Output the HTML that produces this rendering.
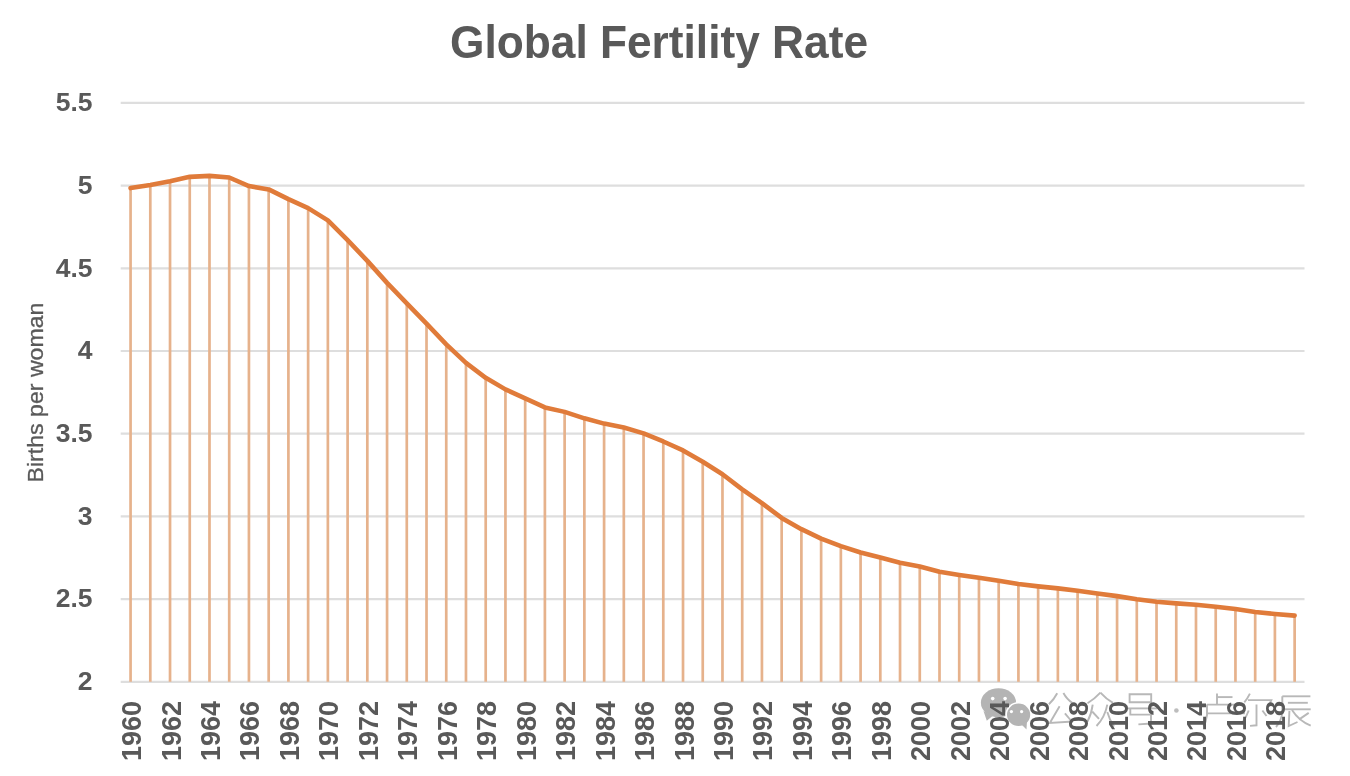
<!DOCTYPE html>
<html><head><meta charset="utf-8">
<style>
html,body{margin:0;padding:0;background:#fff;}
body{width:1350px;height:776px;overflow:hidden;position:relative;}
svg{position:absolute;left:0;top:0;filter:blur(0.5px);}
.yl{font-family:"Liberation Sans",sans-serif;font-weight:bold;font-size:26.5px;fill:#595959;}
.xl{font-family:"Liberation Sans",sans-serif;font-weight:bold;font-size:27px;fill:#595959;}
.tt{font-family:"Liberation Sans",sans-serif;font-weight:bold;font-size:46px;fill:#595959;}
.at{font-family:"Liberation Sans",sans-serif;font-size:22px;fill:#595959;stroke:#595959;stroke-width:0.3px;}
</style></head><body>
<svg width="1350" height="776" viewBox="0 0 1350 776">
<rect x="0" y="0" width="1350" height="776" fill="#ffffff"/>
<text x="450" y="58" textLength="418" lengthAdjust="spacingAndGlyphs" class="tt">Global Fertility Rate</text>
<text x="-482.5" y="43" transform="rotate(-90)" textLength="180" lengthAdjust="spacingAndGlyphs" class="at">Births per woman</text>
<line x1="120.7" y1="681.8" x2="1304.5" y2="681.8" stroke="#dedede" stroke-width="2.2"/>
<line x1="120.7" y1="599.1" x2="1304.5" y2="599.1" stroke="#dedede" stroke-width="2.2"/>
<line x1="120.7" y1="516.4" x2="1304.5" y2="516.4" stroke="#dedede" stroke-width="2.2"/>
<line x1="120.7" y1="433.7" x2="1304.5" y2="433.7" stroke="#dedede" stroke-width="2.2"/>
<line x1="120.7" y1="351.0" x2="1304.5" y2="351.0" stroke="#dedede" stroke-width="2.2"/>
<line x1="120.7" y1="268.3" x2="1304.5" y2="268.3" stroke="#dedede" stroke-width="2.2"/>
<line x1="120.7" y1="185.6" x2="1304.5" y2="185.6" stroke="#dedede" stroke-width="2.2"/>
<line x1="120.7" y1="102.9" x2="1304.5" y2="102.9" stroke="#dedede" stroke-width="2.2"/>
<line x1="130.56" y1="188.08" x2="130.56" y2="681.8" stroke="#e6b28c" stroke-width="2.7"/>
<line x1="150.30" y1="184.94" x2="150.30" y2="681.8" stroke="#e6b28c" stroke-width="2.7"/>
<line x1="170.03" y1="181.30" x2="170.03" y2="681.8" stroke="#e6b28c" stroke-width="2.7"/>
<line x1="189.75" y1="176.83" x2="189.75" y2="681.8" stroke="#e6b28c" stroke-width="2.7"/>
<line x1="209.49" y1="175.84" x2="209.49" y2="681.8" stroke="#e6b28c" stroke-width="2.7"/>
<line x1="229.22" y1="177.50" x2="229.22" y2="681.8" stroke="#e6b28c" stroke-width="2.7"/>
<line x1="248.94" y1="186.10" x2="248.94" y2="681.8" stroke="#e6b28c" stroke-width="2.7"/>
<line x1="268.68" y1="189.40" x2="268.68" y2="681.8" stroke="#e6b28c" stroke-width="2.7"/>
<line x1="288.41" y1="199.16" x2="288.41" y2="681.8" stroke="#e6b28c" stroke-width="2.7"/>
<line x1="308.13" y1="208.09" x2="308.13" y2="681.8" stroke="#e6b28c" stroke-width="2.7"/>
<line x1="327.87" y1="220.33" x2="327.87" y2="681.8" stroke="#e6b28c" stroke-width="2.7"/>
<line x1="347.60" y1="240.18" x2="347.60" y2="681.8" stroke="#e6b28c" stroke-width="2.7"/>
<line x1="367.32" y1="260.86" x2="367.32" y2="681.8" stroke="#e6b28c" stroke-width="2.7"/>
<line x1="387.06" y1="282.86" x2="387.06" y2="681.8" stroke="#e6b28c" stroke-width="2.7"/>
<line x1="406.78" y1="303.36" x2="406.78" y2="681.8" stroke="#e6b28c" stroke-width="2.7"/>
<line x1="426.51" y1="323.71" x2="426.51" y2="681.8" stroke="#e6b28c" stroke-width="2.7"/>
<line x1="446.25" y1="344.38" x2="446.25" y2="681.8" stroke="#e6b28c" stroke-width="2.7"/>
<line x1="465.98" y1="362.91" x2="465.98" y2="681.8" stroke="#e6b28c" stroke-width="2.7"/>
<line x1="485.70" y1="377.79" x2="485.70" y2="681.8" stroke="#e6b28c" stroke-width="2.7"/>
<line x1="505.44" y1="389.37" x2="505.44" y2="681.8" stroke="#e6b28c" stroke-width="2.7"/>
<line x1="525.17" y1="398.30" x2="525.17" y2="681.8" stroke="#e6b28c" stroke-width="2.7"/>
<line x1="544.89" y1="407.40" x2="544.89" y2="681.8" stroke="#e6b28c" stroke-width="2.7"/>
<line x1="564.62" y1="411.87" x2="564.62" y2="681.8" stroke="#e6b28c" stroke-width="2.7"/>
<line x1="584.36" y1="418.32" x2="584.36" y2="681.8" stroke="#e6b28c" stroke-width="2.7"/>
<line x1="604.09" y1="423.61" x2="604.09" y2="681.8" stroke="#e6b28c" stroke-width="2.7"/>
<line x1="623.82" y1="427.58" x2="623.82" y2="681.8" stroke="#e6b28c" stroke-width="2.7"/>
<line x1="643.55" y1="433.37" x2="643.55" y2="681.8" stroke="#e6b28c" stroke-width="2.7"/>
<line x1="663.28" y1="441.47" x2="663.28" y2="681.8" stroke="#e6b28c" stroke-width="2.7"/>
<line x1="683.01" y1="450.41" x2="683.01" y2="681.8" stroke="#e6b28c" stroke-width="2.7"/>
<line x1="702.74" y1="461.82" x2="702.74" y2="681.8" stroke="#e6b28c" stroke-width="2.7"/>
<line x1="722.47" y1="474.22" x2="722.47" y2="681.8" stroke="#e6b28c" stroke-width="2.7"/>
<line x1="742.20" y1="489.44" x2="742.20" y2="681.8" stroke="#e6b28c" stroke-width="2.7"/>
<line x1="761.93" y1="503.17" x2="761.93" y2="681.8" stroke="#e6b28c" stroke-width="2.7"/>
<line x1="781.66" y1="517.89" x2="781.66" y2="681.8" stroke="#e6b28c" stroke-width="2.7"/>
<line x1="801.39" y1="529.14" x2="801.39" y2="681.8" stroke="#e6b28c" stroke-width="2.7"/>
<line x1="821.12" y1="538.56" x2="821.12" y2="681.8" stroke="#e6b28c" stroke-width="2.7"/>
<line x1="840.85" y1="546.17" x2="840.85" y2="681.8" stroke="#e6b28c" stroke-width="2.7"/>
<line x1="860.58" y1="552.46" x2="860.58" y2="681.8" stroke="#e6b28c" stroke-width="2.7"/>
<line x1="880.31" y1="557.58" x2="880.31" y2="681.8" stroke="#e6b28c" stroke-width="2.7"/>
<line x1="900.04" y1="562.71" x2="900.04" y2="681.8" stroke="#e6b28c" stroke-width="2.7"/>
<line x1="919.77" y1="566.52" x2="919.77" y2="681.8" stroke="#e6b28c" stroke-width="2.7"/>
<line x1="939.50" y1="571.81" x2="939.50" y2="681.8" stroke="#e6b28c" stroke-width="2.7"/>
<line x1="959.23" y1="574.95" x2="959.23" y2="681.8" stroke="#e6b28c" stroke-width="2.7"/>
<line x1="978.96" y1="577.76" x2="978.96" y2="681.8" stroke="#e6b28c" stroke-width="2.7"/>
<line x1="998.69" y1="580.74" x2="998.69" y2="681.8" stroke="#e6b28c" stroke-width="2.7"/>
<line x1="1018.42" y1="584.05" x2="1018.42" y2="681.8" stroke="#e6b28c" stroke-width="2.7"/>
<line x1="1038.14" y1="586.36" x2="1038.14" y2="681.8" stroke="#e6b28c" stroke-width="2.7"/>
<line x1="1057.88" y1="588.35" x2="1057.88" y2="681.8" stroke="#e6b28c" stroke-width="2.7"/>
<line x1="1077.61" y1="590.83" x2="1077.61" y2="681.8" stroke="#e6b28c" stroke-width="2.7"/>
<line x1="1097.34" y1="593.48" x2="1097.34" y2="681.8" stroke="#e6b28c" stroke-width="2.7"/>
<line x1="1117.07" y1="596.12" x2="1117.07" y2="681.8" stroke="#e6b28c" stroke-width="2.7"/>
<line x1="1136.80" y1="599.27" x2="1136.80" y2="681.8" stroke="#e6b28c" stroke-width="2.7"/>
<line x1="1156.53" y1="601.75" x2="1156.53" y2="681.8" stroke="#e6b28c" stroke-width="2.7"/>
<line x1="1176.26" y1="603.40" x2="1176.26" y2="681.8" stroke="#e6b28c" stroke-width="2.7"/>
<line x1="1195.99" y1="604.72" x2="1195.99" y2="681.8" stroke="#e6b28c" stroke-width="2.7"/>
<line x1="1215.72" y1="606.71" x2="1215.72" y2="681.8" stroke="#e6b28c" stroke-width="2.7"/>
<line x1="1235.45" y1="609.02" x2="1235.45" y2="681.8" stroke="#e6b28c" stroke-width="2.7"/>
<line x1="1255.18" y1="612.00" x2="1255.18" y2="681.8" stroke="#e6b28c" stroke-width="2.7"/>
<line x1="1274.90" y1="613.99" x2="1274.90" y2="681.8" stroke="#e6b28c" stroke-width="2.7"/>
<line x1="1294.63" y1="615.64" x2="1294.63" y2="681.8" stroke="#e6b28c" stroke-width="2.7"/>
<polyline points="130.56,188.08 150.30,184.94 170.03,181.30 189.75,176.83 209.49,175.84 229.22,177.50 248.94,186.10 268.68,189.40 288.41,199.16 308.13,208.09 327.87,220.33 347.60,240.18 367.32,260.86 387.06,282.86 406.78,303.36 426.51,323.71 446.25,344.38 465.98,362.91 485.70,377.79 505.44,389.37 525.17,398.30 544.89,407.40 564.62,411.87 584.36,418.32 604.09,423.61 623.82,427.58 643.55,433.37 663.28,441.47 683.01,450.41 702.74,461.82 722.47,474.22 742.20,489.44 761.93,503.17 781.66,517.89 801.39,529.14 821.12,538.56 840.85,546.17 860.58,552.46 880.31,557.58 900.04,562.71 919.77,566.52 939.50,571.81 959.23,574.95 978.96,577.76 998.69,580.74 1018.42,584.05 1038.14,586.36 1057.88,588.35 1077.61,590.83 1097.34,593.48 1117.07,596.12 1136.80,599.27 1156.53,601.75 1176.26,603.40 1195.99,604.72 1215.72,606.71 1235.45,609.02 1255.18,612.00 1274.90,613.99 1294.63,615.64" fill="none" stroke="#e07b3a" stroke-width="4.6" stroke-linejoin="round" stroke-linecap="round"/>
<g id="wm">
<ellipse cx="998.5" cy="702.7" rx="17.6" ry="14.4" fill="#b4b4b4"/>
<path d="M983.5,711 L986.8,720.8 L992.5,716 Z" fill="#b4b4b4"/>
<circle cx="992.7" cy="698.6" r="1.8" fill="#fff"/>
<circle cx="1005.1" cy="698.6" r="1.8" fill="#fff"/>
<ellipse cx="1018.6" cy="714.8" rx="12.4" ry="12" fill="#b4b4b4" stroke="#fff" stroke-width="1.6"/>
<path d="M1021,724 L1026.5,729.5 L1027,721 Z" fill="#b4b4b4"/>
<circle cx="1011.4" cy="711.6" r="1.6" fill="#fff"/>
<circle cx="1021.6" cy="711.6" r="1.6" fill="#fff"/>
<g fill="none" stroke="#b8b8b8" stroke-width="1.9" stroke-linecap="butt" stroke-linejoin="miter">
<path d="M1057.2,693.3 Q1054,699.5 1048.9,704.3"/>
<path d="M1063.4,693 Q1067,699.5 1072.5,703"/>
<path d="M1059.6,706.3 L1049.8,723 L1073,721.5"/>
<path d="M1064.9,713.4 L1070.5,720"/>
<path d="M1100.4,692.7 Q1094,699.5 1087.5,703.3"/>
<path d="M1100.4,692.7 Q1106,699 1113,702.8"/>
<path d="M1092.7,704.6 Q1091.5,714 1087.5,721.5"/>
<path d="M1092.2,711.5 L1099,718.8"/>
<path d="M1107.3,704.6 Q1105,717 1096.5,726"/>
<path d="M1107.3,712 Q1109.5,720 1114,726.5"/>
<path d="M1129.6,694.2 L1151.2,694.2 L1151.2,702.2 L1129.6,702.2 Z"/>
<path d="M1126,708.4 L1157,708.4"/>
<path d="M1130.3,708.4 L1130.3,714.6 L1151,714.6 L1151,723.5 L1138.4,724.4"/>
<path d="M1217,693.6 L1217,704.6"/>
<path d="M1217,697.1 L1232.5,697.1"/>
<path d="M1207,704.6 L1244,704.6 L1244,713.4 L1207,713.4"/>
<path d="M1207,704.6 L1207,715 Q1206,722 1203.5,726.5"/>
<path d="M1249.9,693.6 Q1247.5,698.5 1244.3,702.3"/>
<path d="M1248,700.1 L1271.3,700.1 L1269,704.8"/>
<path d="M1256.5,704.6 L1256.5,725.3 L1250,725.9"/>
<path d="M1248.7,710.5 Q1246.5,716.5 1243.2,721.2"/>
<path d="M1262.4,710.5 L1266.5,716"/>
<path d="M1282.3,696.3 L1310.4,696.3"/>
<path d="M1282.3,696.3 L1282.3,712 Q1281.5,721 1276,727"/>
<path d="M1287.9,702.8 L1307.8,702.8"/>
<path d="M1284.4,709.3 L1310.7,709.3"/>
<path d="M1289.4,711 L1288.7,726 L1297.5,722"/>
<path d="M1292,710 Q1299,721 1310.7,725.6"/>
<path d="M1308.7,712.9 L1299.2,719.4"/>
</g>
<circle cx="1176.4" cy="710.5" r="2.3" fill="#bdbdbd"/>
</g>
<text x="92.5" y="690.0" text-anchor="end" class="yl">2</text>
<text x="92.5" y="607.3" text-anchor="end" class="yl">2.5</text>
<text x="92.5" y="524.6" text-anchor="end" class="yl">3</text>
<text x="92.5" y="441.9" text-anchor="end" class="yl">3.5</text>
<text x="92.5" y="359.2" text-anchor="end" class="yl">4</text>
<text x="92.5" y="276.5" text-anchor="end" class="yl">4.5</text>
<text x="92.5" y="193.8" text-anchor="end" class="yl">5</text>
<text x="92.5" y="111.1" text-anchor="end" class="yl">5.5</text>
<text transform="translate(141.06,701) rotate(-90)" text-anchor="end" class="xl">1960</text>
<text transform="translate(180.53,701) rotate(-90)" text-anchor="end" class="xl">1962</text>
<text transform="translate(219.99,701) rotate(-90)" text-anchor="end" class="xl">1964</text>
<text transform="translate(259.44,701) rotate(-90)" text-anchor="end" class="xl">1966</text>
<text transform="translate(298.91,701) rotate(-90)" text-anchor="end" class="xl">1968</text>
<text transform="translate(338.37,701) rotate(-90)" text-anchor="end" class="xl">1970</text>
<text transform="translate(377.82,701) rotate(-90)" text-anchor="end" class="xl">1972</text>
<text transform="translate(417.28,701) rotate(-90)" text-anchor="end" class="xl">1974</text>
<text transform="translate(456.75,701) rotate(-90)" text-anchor="end" class="xl">1976</text>
<text transform="translate(496.20,701) rotate(-90)" text-anchor="end" class="xl">1978</text>
<text transform="translate(535.67,701) rotate(-90)" text-anchor="end" class="xl">1980</text>
<text transform="translate(575.12,701) rotate(-90)" text-anchor="end" class="xl">1982</text>
<text transform="translate(614.59,701) rotate(-90)" text-anchor="end" class="xl">1984</text>
<text transform="translate(654.05,701) rotate(-90)" text-anchor="end" class="xl">1986</text>
<text transform="translate(693.51,701) rotate(-90)" text-anchor="end" class="xl">1988</text>
<text transform="translate(732.97,701) rotate(-90)" text-anchor="end" class="xl">1990</text>
<text transform="translate(772.43,701) rotate(-90)" text-anchor="end" class="xl">1992</text>
<text transform="translate(811.89,701) rotate(-90)" text-anchor="end" class="xl">1994</text>
<text transform="translate(851.35,701) rotate(-90)" text-anchor="end" class="xl">1996</text>
<text transform="translate(890.81,701) rotate(-90)" text-anchor="end" class="xl">1998</text>
<text transform="translate(930.27,701) rotate(-90)" text-anchor="end" class="xl">2000</text>
<text transform="translate(969.73,701) rotate(-90)" text-anchor="end" class="xl">2002</text>
<text transform="translate(1009.19,701) rotate(-90)" text-anchor="end" class="xl">2004</text>
<text transform="translate(1048.64,701) rotate(-90)" text-anchor="end" class="xl">2006</text>
<text transform="translate(1088.11,701) rotate(-90)" text-anchor="end" class="xl">2008</text>
<text transform="translate(1127.57,701) rotate(-90)" text-anchor="end" class="xl">2010</text>
<text transform="translate(1167.03,701) rotate(-90)" text-anchor="end" class="xl">2012</text>
<text transform="translate(1206.49,701) rotate(-90)" text-anchor="end" class="xl">2014</text>
<text transform="translate(1245.95,701) rotate(-90)" text-anchor="end" class="xl">2016</text>
<text transform="translate(1285.40,701) rotate(-90)" text-anchor="end" class="xl">2018</text>
</svg>
</body></html>
